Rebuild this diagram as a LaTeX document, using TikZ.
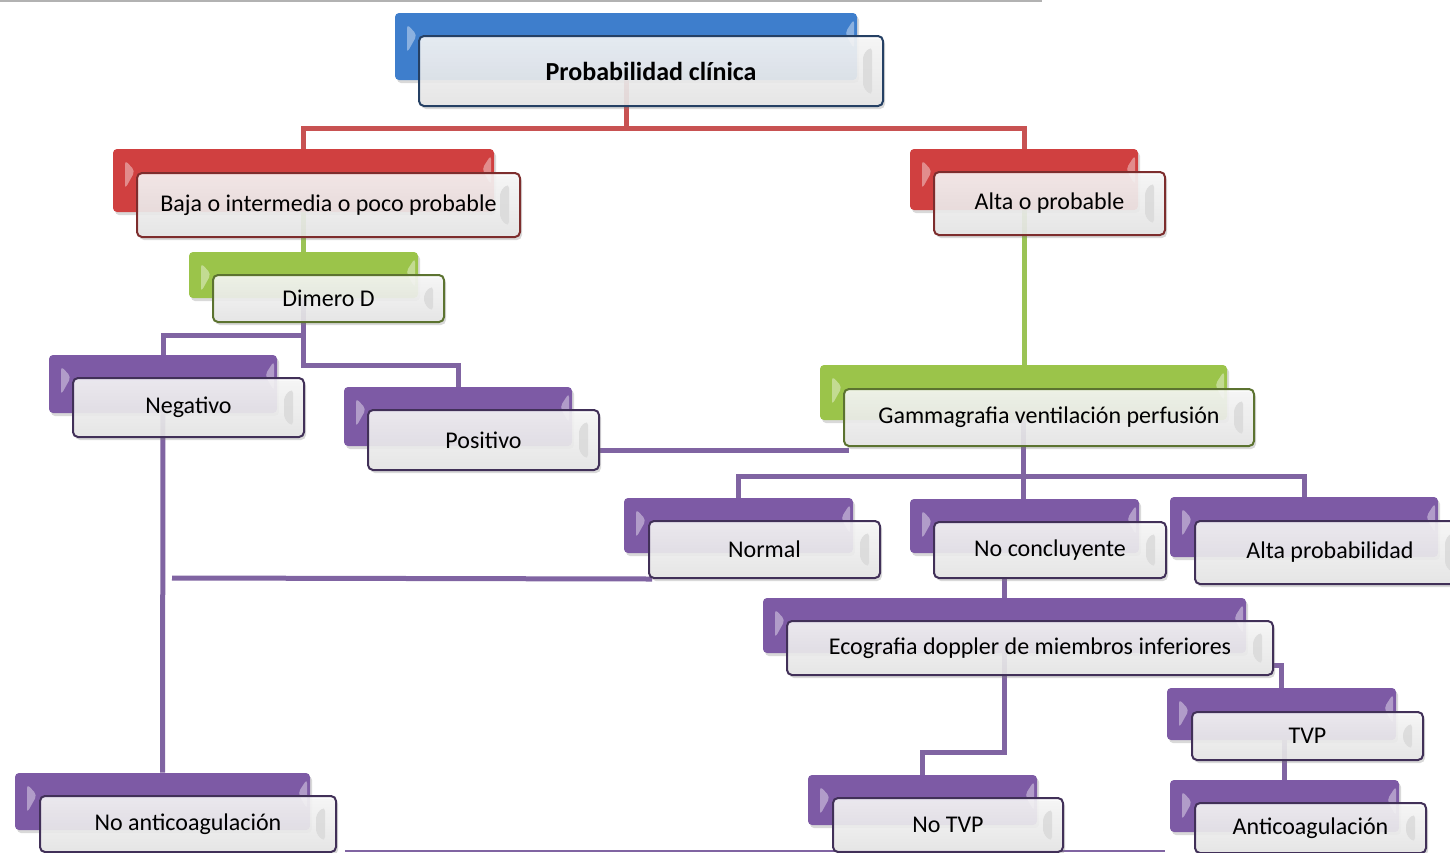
\documentclass[tikz,border=0pt]{standalone}
\usepackage{fontspec}
\setmainfont{Carlito}
\usetikzlibrary{shadows,backgrounds}

\definecolor{azulf}{RGB}{62,126,204}
\definecolor{azulb}{RGB}{37,64,100}
\definecolor{rojof}{RGB}{208,64,64}
\definecolor{rojob}{RGB}{125,45,45}
\definecolor{rojol}{RGB}{200,82,82}
\definecolor{verdef}{RGB}{155,196,74}
\definecolor{verdeb}{RGB}{92,115,48}
\definecolor{verdel}{RGB}{155,195,85}
\definecolor{moradof}{RGB}{125,90,165}
\definecolor{moradob}{RGB}{65,48,88}
\definecolor{moradol}{RGB}{128,100,162}

\begin{document}
\begin{tikzpicture}[x=0.5pt,y=-0.5pt]
        \tikzset{fondo/.style = {rectangle,rounded corners=2pt,inner sep=0pt,
                drop shadow={opacity=0.3,shadow xshift=1pt,shadow yshift=-1.5pt},
                path picture={
                    \fill[white,opacity=0.4] ([shift={(6pt,-5.5pt)}]path picture bounding box.north west) -- ([shift={(11pt,-11pt)}]path picture bounding box.north west) -- ([shift={(6pt,-20pt)}]path picture bounding box.north west) -- cycle;
                    \fill[white,opacity=0.4] ([shift={(-1.5pt,-3pt)}]path picture bounding box.north east) -- ([shift={(-6pt,-10pt)}]path picture bounding box.north east) -- ([shift={(-1.5pt,-18pt)}]path picture bounding box.north east) -- cycle;}}}
        \tikzset{caja/.style = {rectangle,rounded corners=2.5pt,inner sep=0pt,line width=1pt,
                top color=black!2,bottom color=black!9,fill opacity=0.88,text opacity=1,
                font=\fontsize{12}{14}\selectfont,
                drop shadow={opacity=0.3,shadow xshift=1pt,shadow yshift=-1.5pt},
                path picture={
                    \fill[black!14] ([shift={(-10pt,-9pt)}]path picture bounding box.north east) -- ([shift={(-5.5pt,-5pt)}]path picture bounding box.north east) -- ([shift={(-5.5pt,5pt)}]path picture bounding box.south east) -- ([shift={(-10pt,9pt)}]path picture bounding box.south east) -- cycle;}}}
        \tikzset{linea/.style = {line width=2.5pt}}
        \useasboundingbox (0,0) rectangle (1450,852);
        % fondos
        \node[fondo,fill=azulf,minimum width=231pt,minimum height=33.5pt] (fprob) at (626,46.5) {};
        \node[fondo,fill=rojof,minimum width=190.5pt,minimum height=31.5pt] (fbaja) at (303.5,180.5) {};
        \node[fondo,fill=rojof,minimum width=114pt,minimum height=30.5pt] (falta) at (1024,179.5) {};
        \node[fondo,fill=verdef,minimum width=114.5pt,minimum height=23pt] (fdimero) at (303.5,275) {};
        \node[fondo,fill=verdef,minimum width=203.5pt,minimum height=27.5pt] (fgamma) at (1023.5,392.5) {};
        \node[fondo,fill=moradof,minimum width=114pt,minimum height=29pt] (fneg) at (163,384) {};
        \node[fondo,fill=moradof,minimum width=114pt,minimum height=29.5pt] (fpos) at (458,416.5) {};
        \node[fondo,fill=moradof,minimum width=114.5pt,minimum height=27.5pt] (fnormal) at (738.5,525.5) {};
        \node[fondo,fill=moradof,minimum width=114.5pt,minimum height=27pt] (fnocon) at (1024.5,526) {};
        \node[fondo,fill=moradof,minimum width=134pt,minimum height=30pt] (faltap) at (1304,527) {};
        \node[fondo,fill=moradof,minimum width=241.5pt,minimum height=27.5pt] (feco) at (1004.5,625.5) {};
        \node[fondo,fill=moradof,minimum width=114.5pt,minimum height=26pt] (ftvp) at (1281.5,714) {};
        \node[fondo,fill=moradof,minimum width=114.5pt,minimum height=26pt] (fanti) at (1284.5,806) {};
        \node[fondo,fill=moradof,minimum width=114.5pt,minimum height=25pt] (fnotvp) at (922.5,800) {};
        \node[fondo,fill=moradof,minimum width=147.5pt,minimum height=28.5pt] (fnoant) at (162.5,801.5) {};
        % cajas
        \node[caja,draw=azulb,minimum width=232pt,minimum height=35pt,font=\fontsize{13}{15}\selectfont\bfseries] (prob) at (651,71) {Probabilidad clínica};
        \node[caja,draw=rojob,minimum width=191.5pt,minimum height=32pt] (baja) at (328.5,205) {Baja o intermedia o poco probable};
        \node[caja,draw=rojob,minimum width=115.5pt,minimum height=31.5pt] (alta) at (1049.5,203.5) {Alta o probable};
        \node[caja,draw=verdeb,minimum width=115.5pt,minimum height=23.5pt] (dimero) at (328.5,298.5) {Dimero D};
        \node[caja,draw=verdeb,minimum width=205pt,minimum height=28.5pt] (gamma) at (1049,417.5) {Gammagrafia ventilación perfusión};
        \node[caja,draw=moradob,minimum width=115.5pt,minimum height=29.5pt] (neg) at (188.5,407.5) {Negativo};
        \node[caja,draw=moradob,minimum width=115.5pt,minimum height=30pt] (pos) at (483.5,440) {Positivo};
        \node[caja,draw=moradob,minimum width=115.5pt,minimum height=28.5pt] (normal) at (764.5,549.5) {Normal};
        \node[caja,draw=moradob,minimum width=116pt,minimum height=28pt] (nocon) at (1050,550) {No concluyente};
        \node[caja,draw=moradob,minimum width=135pt,minimum height=31.5pt] (altap) at (1330,552.5) {Alta probabilidad};
        \node[caja,draw=moradob,minimum width=243pt,minimum height=27pt] (eco) at (1030,648) {Ecografia doppler de miembros inferiores};
        \node[caja,draw=moradob,minimum width=115.5pt,minimum height=24pt] (tvp) at (1307.5,736) {TVP};
        \node[caja,draw=moradob,minimum width=115.5pt,minimum height=25pt] (anti) at (1310.5,828) {Anticoagulación};
        \node[caja,draw=moradob,minimum width=115pt,minimum height=27pt] (notvp) at (948,825) {No TVP};
        \node[caja,draw=moradob,minimum width=148pt,minimum height=28pt] (noant) at (188,824) {No anticoagulación};
        \coordinate (cruce) at (172,578);
        % conectores
        \begin{scope}[on background layer]
        \draw[gray!60,line width=1pt] (0,1) -- (1042,1);
        \draw[moradol,line width=0.75pt] (345,851) -- (1165,851);
        \draw[linea,rojol] (fprob.south) -- ++(0,48) -| (fbaja.north);
        \draw[linea,rojol] (fprob.south) -- ++(0,48) -| (falta.north);
        \draw[linea,verdel] (fbaja.south) -- (fdimero.north);
        \draw[linea,verdel] (falta.south) -- (falta.south |- fgamma.north);
        \draw[linea,moradol] (fdimero.south) -- ++(0,37) -| (fneg.north);
        \draw[linea,moradol] (fdimero.south) -- ++(0,67) -| (fpos.north);
        \draw[linea,moradol] ([yshift=-1.5pt]pos.east |- gamma.south west) -- ([shift={(3pt,-1.5pt)}]gamma.south west);
        \draw[linea,moradol] (fgamma.south) -- (fgamma.south |- fnocon.north);
        \draw[linea,moradol] (fgamma.south) -- ++(0,56) -| (fnormal.north);
        \draw[linea,moradol] (fgamma.south) -- ++(0,56) -| (faltap.north);
        \draw[linea,moradol] (fneg.south) -- (fnoant.north);
        \draw[linea,moradol] ([xshift=2pt]normal.south west) -- (cruce);
        \draw[linea,moradol] (nocon.south -| feco.north) -- (feco.north);
        \draw[linea,moradol] (feco.south) -- ++(0,99) -| (fnotvp.north);
        \draw[linea,moradol] ([yshift=-8.5pt]eco.east) -| (ftvp.north);
        \draw[linea,moradol] (ftvp.south -| fanti.north) -- (fanti.north);
        \end{scope}
\end{tikzpicture}
\end{document}
